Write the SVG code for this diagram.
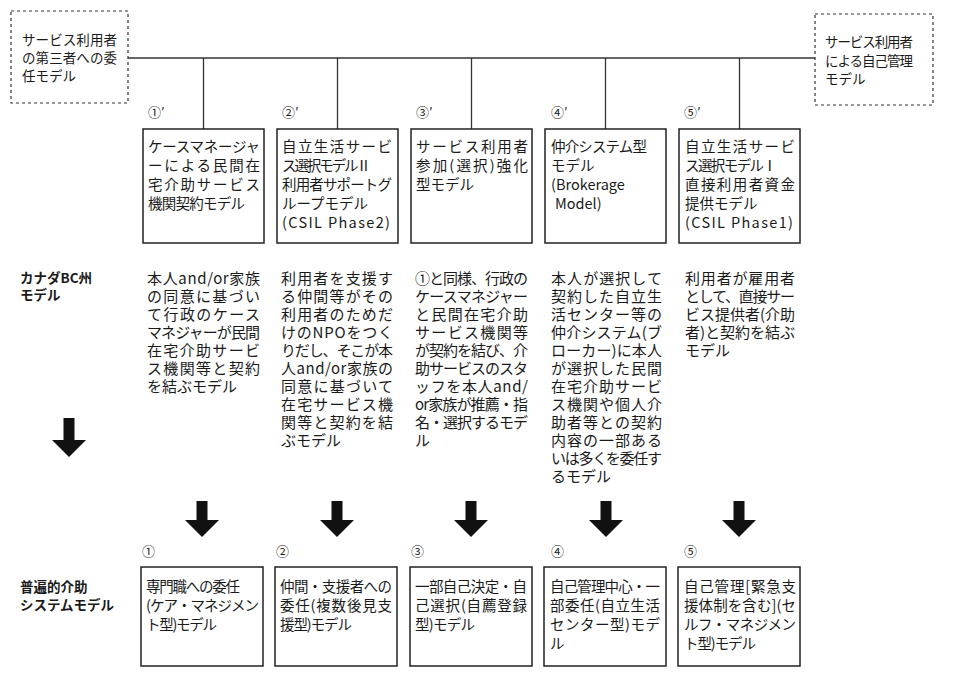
<svg xmlns="http://www.w3.org/2000/svg" width="954" height="692" viewBox="0 0 954 692">
<style>
text{font-family:"Noto Sans CJK JP","Noto Sans",sans-serif;fill:#1a1a1a}
.box{fill:#fff;stroke:#222;stroke-width:1.5}
.dash{fill:#fff;stroke:#333;stroke-width:1.2;stroke-dasharray:3 3}
.ln{stroke:#333;stroke-width:1.3;fill:none}
.arr{fill:#111}
.t1{font-size:14.5px}
.td{font-size:15px}
.tb{font-size:14.5px}
.tg{font-size:13.5px}
.lab{font-size:13px}
.side{font-size:13.5px;font-weight:700}
</style>
<rect width="954" height="692" fill="#fff"/>

<g id="connectors">
<line class="ln" x1="128" y1="58" x2="815" y2="58"/>
<line class="ln" x1="203.5" y1="58" x2="203.5" y2="129"/>
<line class="ln" x1="337.5" y1="58" x2="337.5" y2="129"/>
<line class="ln" x1="471.5" y1="58" x2="471.5" y2="129"/>
<line class="ln" x1="605.5" y1="58" x2="605.5" y2="129"/>
<line class="ln" x1="739.5" y1="58" x2="739.5" y2="129"/>
<polygon class="arr" points="63.5,418 74.5,418 74.5,440 86,440 69,457 52,440 63.5,440"/>
<polygon class="arr" points="196.5,501 207.5,501 207.5,520 219,520 202,537 185,520 196.5,520"/>
<polygon class="arr" points="331.5,501 342.5,501 342.5,520 354,520 337,537 320,520 331.5,520"/>
<polygon class="arr" points="465.5,501 476.5,501 476.5,520 488,520 471,537 454,520 465.5,520"/>
<polygon class="arr" points="600.5,501 611.5,501 611.5,520 623,520 606,537 589,520 600.5,520"/>
<polygon class="arr" points="733.5,501 744.5,501 744.5,520 756,520 739,537 722,520 733.5,520"/>
</g>

<g id="node-left">
<rect class="dash" x="11" y="11" width="117" height="92"/>
<text class="tg"><tspan x="22" y="45" textLength="95">サービス利用者</tspan><tspan x="22" y="63" textLength="95">の第三者への委</tspan><tspan x="22" y="81">任モデル</tspan></text>
</g>

<g id="node-right">
<rect class="dash" x="815" y="14" width="118" height="91"/>
<text class="tg"><tspan x="825" y="47" textLength="88">サービス利用者</tspan><tspan x="825" y="66" textLength="88">による自己管理</tspan><tspan x="825" y="84">モデル</tspan></text>
</g>

<g id="side-labels">
<text class="side"><tspan x="20" y="283">カナダBC州</tspan><tspan x="20" y="300">モデル</tspan></text>
<text class="side"><tspan x="20" y="592">普遍的介助</tspan><tspan x="20" y="610">システムモデル</tspan></text>
</g>

<g id="node-1p">
<text class="lab" x="148" y="117">①′</text>
<rect class="box" x="143" y="129" width="121" height="114"/>
<text class="t1"><tspan x="148" y="152" textLength="112">ケースマネージャ</tspan><tspan x="148" y="171" textLength="112">ーによる民間在</tspan><tspan x="148" y="190" textLength="112">宅介助サービス</tspan><tspan x="148" y="209" textLength="97">機関契約モデル</tspan></text>
</g>

<g id="node-2p">
<text class="lab" x="282" y="117">②′</text>
<rect class="box" x="277" y="129" width="121" height="114"/>
<text class="t1"><tspan x="282" y="152" textLength="110">自立生活サービ</tspan><tspan x="282" y="171" textLength="89">ス選択モデルⅡ</tspan><tspan x="282" y="190" textLength="110">利用者サポートグ</tspan><tspan x="282" y="209" textLength="86">ループモデル</tspan><tspan x="282" y="228" textLength="108">(CSIL Phase2)</tspan></text>
</g>

<g id="node-3p">
<text class="lab" x="416" y="117">③′</text>
<rect class="box" x="411" y="129" width="121" height="114"/>
<text class="t1"><tspan x="416" y="152" textLength="112">サービス利用者</tspan><tspan x="416" y="171" textLength="112">参加(選択)強化</tspan><tspan x="416" y="190">型モデル</tspan></text>
</g>

<g id="node-4p">
<text class="lab" x="551" y="117">④′</text>
<rect class="box" x="545" y="129" width="121" height="114"/>
<text class="t1"><tspan x="551" y="152" textLength="96">仲介システム型</tspan><tspan x="551" y="171">モデル</tspan><tspan x="551" y="190">(Brokerage</tspan><tspan x="555" y="209">Model)</tspan></text>
</g>

<g id="node-5p">
<text class="lab" x="684" y="117">⑤′</text>
<rect class="box" x="679" y="129" width="121" height="114"/>
<text class="t1"><tspan x="685" y="152" textLength="110">自立生活サービ</tspan><tspan x="685" y="171" textLength="92">ス選択モデルⅠ</tspan><tspan x="685" y="190" textLength="110">直接利用者資金</tspan><tspan x="685" y="209">提供モデル</tspan><tspan x="685" y="228" textLength="108">(CSIL Phase1)</tspan></text>
</g>

<g id="desc-1">
<text class="td"><tspan x="147" y="284" textLength="113">本人and/or家族</tspan><tspan x="147" y="302" textLength="113">の同意に基づい</tspan><tspan x="147" y="320" textLength="113">て行政のケース</tspan><tspan x="147" y="338" textLength="113">マネジャーが民間</tspan><tspan x="147" y="356" textLength="113">在宅介助サービ</tspan><tspan x="147" y="374" textLength="113">ス機関等と契約</tspan><tspan x="147" y="392">を結ぶモデル</tspan></text>
</g>

<g id="desc-2">
<text class="td"><tspan x="281" y="284" textLength="112">利用者を支援す</tspan><tspan x="281" y="302" textLength="112">る仲間等がその</tspan><tspan x="281" y="320" textLength="112">利用者のためだ</tspan><tspan x="281" y="338" textLength="112">けのNPOをつく</tspan><tspan x="281" y="356" textLength="112">りだし、そこが本</tspan><tspan x="281" y="374" textLength="112">人and/or家族の</tspan><tspan x="281" y="392" textLength="112">同意に基づいて</tspan><tspan x="281" y="410" textLength="112">在宅サービス機</tspan><tspan x="281" y="428" textLength="112">関等と契約を結</tspan><tspan x="281" y="446">ぶモデル</tspan></text>
</g>

<g id="desc-3">
<text class="td"><tspan x="415" y="284" textLength="113">①と同様、行政の</tspan><tspan x="415" y="302" textLength="113">ケースマネジャー</tspan><tspan x="415" y="320" textLength="113">と民間在宅介助</tspan><tspan x="415" y="338" textLength="113">サービス機関等</tspan><tspan x="415" y="356" textLength="113">が契約を結び、介</tspan><tspan x="415" y="374" textLength="113">助サービスのスタ</tspan><tspan x="415" y="392" textLength="113">ッフを本人and/</tspan><tspan x="415" y="410" textLength="113">or家族が推薦・指</tspan><tspan x="415" y="428" textLength="113">名・選択するモデ</tspan><tspan x="415" y="446">ル</tspan></text>
</g>

<g id="desc-4">
<text class="td"><tspan x="551" y="284" textLength="111">本人が選択して</tspan><tspan x="551" y="302" textLength="111">契約した自立生</tspan><tspan x="551" y="320" textLength="111">活センター等の</tspan><tspan x="551" y="338" textLength="111">仲介システム(ブ</tspan><tspan x="551" y="356" textLength="111">ローカー)に本人</tspan><tspan x="551" y="374" textLength="111">が選択した民間</tspan><tspan x="551" y="392" textLength="111">在宅介助サービ</tspan><tspan x="551" y="410" textLength="111">ス機関や個人介</tspan><tspan x="551" y="428" textLength="111">助者等との契約</tspan><tspan x="551" y="446" textLength="111">内容の一部ある</tspan><tspan x="551" y="464" textLength="111">いは多くを委任す</tspan><tspan x="551" y="482">るモデル</tspan></text>
</g>

<g id="desc-5">
<text class="td"><tspan x="685" y="284" textLength="110">利用者が雇用者</tspan><tspan x="685" y="302" textLength="110">として、直接サー</tspan><tspan x="685" y="320" textLength="110">ビス提供者(介助</tspan><tspan x="685" y="338" textLength="110">者)と契約を結ぶ</tspan><tspan x="685" y="356">モデル</tspan></text>
</g>

<g id="node-1">
<text class="lab" x="142" y="556">①</text>
<rect class="box" x="141" y="567" width="122" height="99"/>
<text class="tb"><tspan x="146" y="592" textLength="94">専門職への委任</tspan><tspan x="146" y="611" textLength="113">(ケア・マネジメン</tspan><tspan x="146" y="630" textLength="71">ト型)モデル</tspan></text>
</g>

<g id="node-2">
<text class="lab" x="276" y="556">②</text>
<rect class="box" x="275" y="567" width="122" height="99"/>
<text class="tb"><tspan x="280" y="592" textLength="112">仲間・支援者への</tspan><tspan x="280" y="611" textLength="112">委任(複数後見支</tspan><tspan x="280" y="630" textLength="72">援型)モデル</tspan></text>
</g>

<g id="node-3">
<text class="lab" x="411" y="556">③</text>
<rect class="box" x="410" y="567" width="122" height="99"/>
<text class="tb"><tspan x="415" y="592" textLength="112">一部自己決定・自</tspan><tspan x="415" y="611" textLength="112">己選択(自薦登録</tspan><tspan x="415" y="630" textLength="60">型)モデル</tspan></text>
</g>

<g id="node-4">
<text class="lab" x="551" y="556">④</text>
<rect class="box" x="544" y="567" width="122" height="99"/>
<text class="tb"><tspan x="550" y="592" textLength="110">自己管理中心・一</tspan><tspan x="550" y="611" textLength="110">部委任(自立生活</tspan><tspan x="550" y="630" textLength="110">センター型)モデ</tspan><tspan x="550" y="649">ル</tspan></text>
</g>

<g id="node-5">
<text class="lab" x="684" y="556">⑤</text>
<rect class="box" x="678" y="567" width="122" height="99"/>
<text class="tb"><tspan x="684" y="592" textLength="112">自己管理[緊急支</tspan><tspan x="684" y="611" textLength="112">援体制を含む](セ</tspan><tspan x="684" y="630" textLength="112">ルフ・マネジメン</tspan><tspan x="684" y="649" textLength="72">ト型)モデル</tspan></text>
</g>
</svg>
